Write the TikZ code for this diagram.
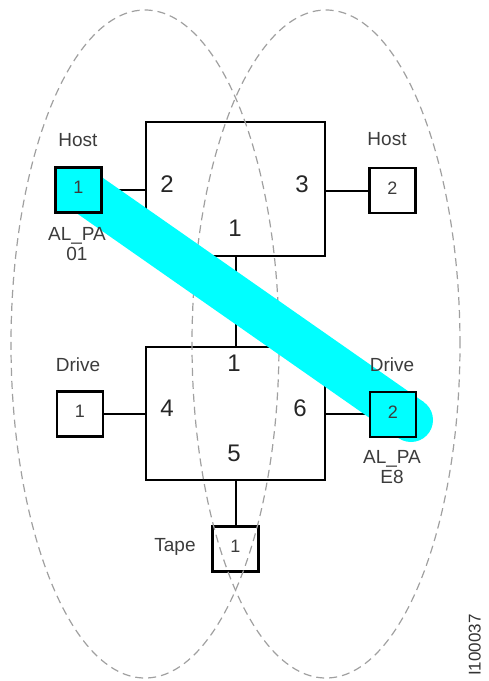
\documentclass[tikz,border=0pt]{standalone}
\usepackage{fontspec}
\setmainfont{Liberation Sans}
\definecolor{bandcyan}{RGB}{0,255,255}
\definecolor{labelgray}{RGB}{60,60,60}
\definecolor{zonegray}{RGB}{160,160,160}
\begin{document}
\begin{tikzpicture}[x=1pt,y=-1pt,
  switchbox/.style={draw=black,line width=2.2pt,rectangle,inner sep=0pt,minimum width=179pt,minimum height=134pt},
  portbox/.style={draw=black,line width=2.2pt,rectangle,inner sep=0pt,minimum width=46pt,minimum height=45pt,
     font=\fontsize{18}{21}\selectfont,text=labelgray,text height=0.716em,text depth=0pt},
  selbox/.style={portbox,fill=bandcyan},
  wire/.style={draw=black,line width=2pt},
  zone/.style={draw=zonegray,line width=1.2pt,dash pattern=on 8pt off 5pt},
  lbl/.style={inner sep=0pt,text=labelgray,font=\fontsize{19}{22}\selectfont,text height=0.716em,text depth=0pt},
  portnum/.style={inner sep=0pt,text=black!85,font=\fontsize{24}{28}\selectfont,text height=0.716em,text depth=0pt},
  band/.style={draw=bandcyan,line width=44pt,line cap=butt}]
\useasboundingbox (0,0) rectangle (488,681);
% switches
\node[switchbox] (sw1) at (235.5,189) {};
\node[switchbox,minimum height=133pt] (sw2) at (235.5,413.5) {};
% plain port boxes
\node[portbox] (host2) at (392.5,190.5) {2};
\node[portbox] (drive1) at (80,414) {1};
\node[portbox] (tape) at (235.5,549) {1};
% connectors
\coordinate (h1e) at (101,190);
\coordinate (d2w) at (370,414);
\draw[wire] (h1e) -- (h1e -| sw1.west);
\draw[wire] (sw1.east |- host2.west) -- (host2.west);
\draw[wire] (drive1.east) -- (drive1.east -| sw2.west);
\draw[wire] (sw2.east |- d2w) -- (d2w);
\draw[wire] (sw1.south) -- (sw2.north);
\draw[wire] (sw2.south) -- (tape.north);
% zones
\draw[zone] (145,344) ellipse [x radius=134pt, y radius=334pt];
\draw[zone] (326,344) ellipse [x radius=134pt, y radius=334pt];
% selection band
\coordinate (bandA) at (79,188);
\coordinate (bandB) at (411,420);
\draw[band] (bandA) -- (bandB);
\fill[bandcyan] (bandB) circle (22pt);
% selected port boxes
\node[selbox] (host1) at (78.5,190) {1};
\node[selbox] (drive2) at (393,414.5) {2};
% port numbers
\node[portnum] (p12) at (167,189) {2};
\node[portnum] (p13) at (302,189) {3};
\node[portnum] (p11) at (235,233) {1};
\node[portnum] (p21) at (234,368) {1};
\node[portnum] (p24) at (167,413) {4};
\node[portnum] (p25) at (234,458) {5};
\node[portnum] (p26) at (300,413) {6};
% labels
\node[lbl] (lh1) at (78,143) {Host};
\node[lbl] (lh2) at (387,142) {Host};
\node[lbl] (ld1) at (78,368) {Drive};
\node[lbl] (ld2) at (392,368) {Drive};
\node[lbl] (lt) at (175,548) {Tape};
\node[lbl] (a1) at (77,237) {AL\_PA};
\node[lbl] (a1b) at (77,257) {01};
\node[lbl] (a2) at (392,460) {AL\_PA};
\node[lbl] (a2b) at (392,480) {E8};
\node[lbl,rotate=90,font=\fontsize{17}{20}\selectfont,text=black!80] (fig) at (477,645) {I100037};
\end{tikzpicture}
\end{document}
